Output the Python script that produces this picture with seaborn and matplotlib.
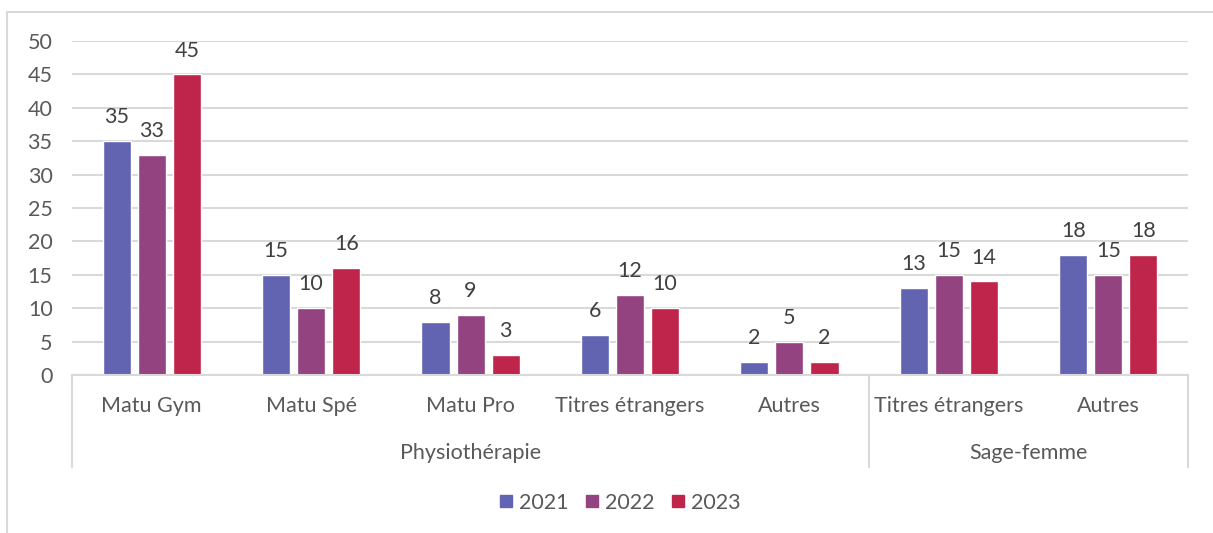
import matplotlib
matplotlib.use("Agg")
import matplotlib.pyplot as plt
import matplotlib.transforms as mtransforms
from matplotlib.lines import Line2D
import pandas as pd
import seaborn as sns

groups = ["Physiothérapie"] * 5 + ["Sage-femme"] * 2
categories = ["Matu Gym", "Matu Spé", "Matu Pro", "Titres étrangers", "Autres",
              "Titres étrangers", "Autres"]
years = ["2021", "2022", "2023"]
values_2021 = [35, 15, 8, 6, 2, 13, 18]
values_2022 = [33, 10, 9, 12, 5, 15, 15]
values_2023 = [45, 16, 3, 10, 2, 14, 18]
yticks = [0, 5, 10, 15, 20, 25, 30, 35, 40, 45, 50]
colors = ["#6264B2", "#924380", "#BF254A"]

keys = [f"{g}|{c}" for g, c in zip(groups, categories)]
rows = []
for year, vals in zip(years, [values_2021, values_2022, values_2023]):
    for k, v in zip(keys, vals):
        rows.append({"key": k, "year": year, "value": v})
df = pd.DataFrame(rows)

sns.set_style("white")
plt.rcParams["font.family"] = ["Lato", "DejaVu Sans"]
TXT = "#595959"
FS = 15.5

fig = plt.figure(figsize=(12.13, 5.33), dpi=100)
ax = fig.add_axes([72 / 1213, 1 - 375 / 533, (1188 - 72) / 1213, (375 - 41) / 533])

sns.barplot(data=df, x="key", y="value", hue="year", order=keys, hue_order=years,
            palette=colors, width=0.66, gap=0.2, saturation=1, ax=ax, legend=False)

for cont in ax.containers:
    ax.bar_label(cont, padding=10, fontsize=FS, color="#404040")

ax.set_ylim(0, 50)
ax.set_xlim(-0.5, len(keys) - 0.5)
ax.set_yticks(yticks)
ax.set_yticklabels([str(t) for t in yticks], fontsize=FS, color=TXT)
ax.set_xticks(range(len(keys)))
ax.set_xticklabels(categories, fontsize=FS, color=TXT)
ax.tick_params(axis="x", length=0, pad=15)
ax.tick_params(axis="y", length=0, pad=14)
ax.set_xlabel("")
ax.set_ylabel("")
ax.yaxis.grid(True, color="#D9D9D9", linewidth=1.5)
ax.set_axisbelow(True)
for s in ["top", "right", "left"]:
    ax.spines[s].set_visible(False)
ax.spines["bottom"].set_color("#D9D9D9")
ax.spines["bottom"].set_linewidth(1.5)

# second level category axis
trans = mtransforms.blended_transform_factory(ax.transData, ax.transAxes)
depth = -(467 - 375) / (375 - 41)
for xb in [-0.5, 4.5, 6.5]:
    ax.plot([xb, xb], [0, depth], transform=trans, color="#D9D9D9",
            linewidth=1.5, clip_on=False)
group_names = ["Physiothérapie", "Sage-femme"]
group_centers = [2.0, 5.5]
for name, xc in zip(group_names, group_centers):
    ax.text(xc, -(453 - 375) / (375 - 41), name, transform=trans, ha="center",
            va="center", fontsize=FS, color=TXT)

# legend
handles = [Line2D([], [], marker="s", linestyle="none", markersize=9,
                  markerfacecolor=c, markeredgecolor=c) for c in colors]
fig.legend(handles, years, loc="center", bbox_to_anchor=(618 / 1213, 1 - 503 / 533),
           ncol=3, frameon=False, fontsize=FS, labelcolor=TXT,
           handletextpad=0.1, columnspacing=0.6, handlelength=1.0)

# outer chart frame
fig.add_artist(Line2D([7 / 1213, 7 / 1213], [0, 1 - 12 / 533], color="#D9D9D9",
                      linewidth=1.5, transform=fig.transFigure))
fig.add_artist(Line2D([7 / 1213, 1], [1 - 12 / 533, 1 - 12 / 533], color="#D9D9D9",
                      linewidth=1.5, transform=fig.transFigure))

fig.savefig("out.png", dpi=100)
